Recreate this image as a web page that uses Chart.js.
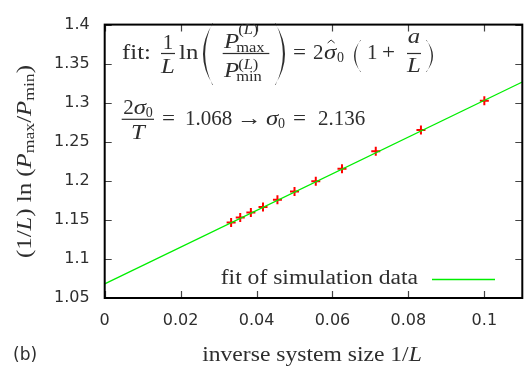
<!DOCTYPE html>
<html>
<head>
<meta charset="utf-8">
<script src="https://cdn.jsdelivr.net/npm/chart.js@4/dist/chart.umd.min.js"></script>
<style>
  html, body { margin: 0; padding: 0; background: #fff; }
  canvas { display: block; }
</style>
</head>
<body>
<canvas id="sizeChart" width="532" height="371"></canvas>
<script>
// simulation points: inverse system size 1/L and (1/L) ln(Pmax/Pmin)
const invL = [0.0333, 0.0357, 0.0385, 0.0417, 0.0455, 0.05, 0.0556, 0.0625, 0.0714, 0.0833, 0.1];
const ratio = [1.1468, 1.1529, 1.1594, 1.1664, 1.1757, 1.1864, 1.1995, 1.2154, 1.2379, 1.2652, 1.3025];

// fitted straight line, evaluated at both ends of the x range
const fitX = [0, 0.11];
const fitY = [1.068, 1.3265];

const xTicks = [0, 0.02, 0.04, 0.06, 0.08, 0.1];
const yTicks = [1.05, 1.1, 1.15, 1.2, 1.25, 1.3, 1.35, 1.4];

const legendLabel = "fit of simulation data";
const xTitle = "inverse system size 1/";
const panelTag = "(b)";

const INK = "#2e2e2e";
const GREEN = "#00ee00";
const RED = "#ff0000";

const R = s => `${s}px "Liberation Serif"`;
const I = s => `italic ${s}px "Liberation Serif"`;
const WIDE = 1.18;   // letters are set a bit wider than the stock serif

// draws a string with optional horizontal stretch, returns its advance
function put(ctx, str, x, y, font, align, sx) {
  sx = sx || WIDE;
  ctx.font = font;
  ctx.textAlign = "left";
  const w = ctx.measureText(str).width * sx;
  let x0 = x;
  if (align === "center") x0 = x - w / 2;
  if (align === "right") x0 = x - w;
  ctx.save();
  ctx.translate(x0, y);
  ctx.scale(sx, 1);
  ctx.fillText(str, 0, 0);
  ctx.restore();
  return w;
}

function width(ctx, str, font, sx) {
  ctx.font = font;
  return ctx.measureText(str).width * (sx || WIDE);
}

function bar(ctx, x0, x1, y) {
  ctx.fillRect(x0, y - 0.6, x1 - x0, 1.2);
}

// crescent-shaped delimiter; x0 = outer bulge, x1 = tips
function paren(ctx, x0, x1, top, bot, t) {
  const mid = (top + bot) / 2;
  const s = x1 > x0 ? 1 : -1;
  ctx.beginPath();
  ctx.moveTo(x1, top);
  ctx.quadraticCurveTo(2 * x0 - x1, mid, x1, bot);
  ctx.lineTo(x1 - s * 0.6, bot);
  ctx.quadraticCurveTo(2 * (x0 + s * t) - x1, mid, x1 - s * 0.6, top);
  ctx.closePath();
  ctx.fill();
}

function hat(ctx, cx, y) {
  ctx.beginPath();
  ctx.moveTo(cx - 3.5, y + 3);
  ctx.lineTo(cx, y);
  ctx.lineTo(cx + 3.5, y + 3);
  ctx.lineWidth = 1;
  ctx.strokeStyle = INK;
  ctx.stroke();
}

function drawFormulas(ctx) {
  ctx.fillStyle = INK;
  ctx.textBaseline = "alphabetic";

  // line 1: fit: (1/L) ln(Pmax/Pmin) = 2 sigma-hat (1 + a/L)
  put(ctx, "fit:", 122, 58.5, R(21));
  put(ctx, "1", 168, 48.5, R(21), "center", 1);
  bar(ctx, 161, 175, 53.5);
  put(ctx, "L", 168, 73, I(21), "center");
  put(ctx, "ln", 179, 58.5, R(21));

  paren(ctx, 203, 213, 23, 85, 2.4);
  let x = 224 + put(ctx, "P", 224, 48, I(21)) - 2;
  let sx = x + 1;
  sx += put(ctx, "(", sx, 34, R(14));
  sx += put(ctx, "L", sx, 34, I(14));
  put(ctx, ")", sx, 34, R(14));
  put(ctx, "max", x - 1, 52, R(14));
  bar(ctx, 222.7, 269.3, 53.5);
  x = 224 + put(ctx, "P", 224, 77, I(21)) - 2;
  sx = x + 1;
  sx += put(ctx, "(", sx, 69, R(14));
  sx += put(ctx, "L", sx, 69, I(14));
  put(ctx, ")", sx, 69, R(14));
  put(ctx, "min", x - 1, 81, R(14));
  paren(ctx, 285, 275, 23, 85, 2.4);

  put(ctx, "=", 293, 58.5, R(21), "left", 1.1);
  put(ctx, "2", 313, 58.5, R(21), "left", 1);
  const sw = put(ctx, "σ", 324, 58.5, I(21));
  hat(ctx, 324 + sw / 2 + 1, 40);
  put(ctx, "0", 337, 62, R(14), "left", 1);

  paren(ctx, 354, 361, 40, 72, 1.8);
  put(ctx, "1", 367, 58.5, R(21), "left", 1);
  put(ctx, "+", 382, 58.5, R(21), "left", 1.1);
  put(ctx, "a", 414, 43, I(21), "center");
  bar(ctx, 407, 421, 53.5);
  put(ctx, "L", 414, 72, I(21), "center");
  paren(ctx, 433, 426, 40, 72, 1.8);

  // line 2: 2 sigma0 / T = 1.068 -> sigma0 = 2.136
  const numW = width(ctx, "2", R(21), 1) + width(ctx, "σ", I(21)) + width(ctx, "0", R(14), 1);
  x = 138 - numW / 2;
  x += put(ctx, "2", x, 113.5, R(21), "left", 1);
  x += put(ctx, "σ", x, 113.5, I(21));
  put(ctx, "0", x, 117, R(14), "left", 1);
  bar(ctx, 121.7, 154, 119.3);
  put(ctx, "T", 138, 139, I(21), "center");

  put(ctx, "=", 162, 124.5, R(21), "left", 1.1);
  put(ctx, "1.068", 185, 124.5, R(21), "left", 1);
  put(ctx, "→", 237, 124.5, R(21));
  put(ctx, "σ", 266, 124.5, I(21));
  put(ctx, "0", 278, 128, R(14), "left", 1);
  put(ctx, "=", 293, 124.5, R(21), "left", 1.1);
  put(ctx, "2.136", 318, 124.5, R(21), "left", 1);
}

function drawYTitle(ctx) {
  const parts = [
    ["(1/", R(21), 0], ["L", I(21), 0], [")", R(21), 0], [" ln", R(21), 0], [" (", R(21), 0],
    ["P", I(21), 0], ["max", R(15), 3], ["/", R(21), 0], ["P", I(21), 0], ["min", R(15), 3], [")", R(21), 0]
  ];
  let total = 0;
  parts.forEach(p => { total += width(ctx, p[0], p[1]); });
  ctx.save();
  ctx.translate(31, 161.5);
  ctx.rotate(-Math.PI / 2);
  let x = -total / 2;
  parts.forEach(p => { x += put(ctx, p[0], x, p[2], p[1]); });
  ctx.restore();
}

const frame = {
  id: "frame",
  afterDraw(chart) {
    const ctx = chart.ctx;
    const a = chart.chartArea;
    const xs = chart.scales.x, ys = chart.scales.y;
    ctx.save();

    // inward ticks on all four sides
    ctx.strokeStyle = "#444";
    ctx.lineWidth = 1.2;
    ctx.beginPath();
    xTicks.forEach(v => {
      const px = Math.round(xs.getPixelForValue(v)) + 0.5;
      ctx.moveTo(px, a.bottom); ctx.lineTo(px, a.bottom - 7);
      ctx.moveTo(px, a.top); ctx.lineTo(px, a.top + 7);
    });
    yTicks.forEach(v => {
      const py = Math.round(ys.getPixelForValue(v)) + 0.5;
      ctx.moveTo(a.left, py); ctx.lineTo(a.left + 7, py);
      ctx.moveTo(a.right, py); ctx.lineTo(a.right - 7, py);
    });
    ctx.stroke();

    ctx.strokeStyle = "#000";
    ctx.lineWidth = 2;
    ctx.strokeRect(a.left, a.top, a.right - a.left, a.bottom - a.top);

    drawFormulas(ctx);

    // legend entry inside the plot
    ctx.fillStyle = INK;
    put(ctx, legendLabel, 418, 284, R(20), "right");
    ctx.strokeStyle = GREEN;
    ctx.lineWidth = 1.3;
    ctx.beginPath();
    ctx.moveTo(432, 279.5); ctx.lineTo(495, 279.5);
    ctx.stroke();

    drawYTitle(ctx);

    // x title with italic L
    ctx.fillStyle = INK;
    const w1 = width(ctx, xTitle, R(20)), w2 = width(ctx, "L", I(20));
    const x0 = 312 - (w1 + w2) / 2;
    put(ctx, xTitle, x0, 361, R(20));
    put(ctx, "L", x0 + w1, 361, I(20));

    put(ctx, panelTag, 13, 360, '17px "DejaVu Sans"', "left", 1);
    ctx.restore();
  }
};

new Chart(document.getElementById("sizeChart"), {
  type: "scatter",
  data: {
    datasets: [
      {
        label: legendLabel,
        data: fitX.map((v, i) => ({ x: v, y: fitY[i] })),
        showLine: true,
        borderColor: GREEN,
        borderWidth: 1.3,
        pointRadius: 0,
        fill: false
      },
      {
        label: "simulation",
        data: invL.map((v, i) => ({ x: v, y: ratio[i] })),
        pointStyle: "cross",
        pointRadius: 4.5,
        borderColor: RED,
        backgroundColor: RED,
        pointBorderWidth: 2
      }
    ]
  },
  options: {
    responsive: false,
    animation: false,
    layout: { padding: { top: 12.7, right: 9.7, left: 0, bottom: 0 } },
    plugins: { legend: { display: false }, tooltip: { enabled: false } },
    scales: {
      x: {
        type: "linear",
        min: 0,
        max: 0.11,
        afterFit: s => { s.height = 73; },
        afterBuildTicks: s => { s.ticks = xTicks.map(v => ({ value: v })); },
        grid: { display: false, drawTicks: false },
        border: { display: false },
        ticks: {
          padding: 13,
          color: INK,
          font: { family: "DejaVu Sans", size: 16 },
          callback: v => String(Math.round(v * 100) / 100)
        }
      },
      y: {
        min: 1.05,
        max: 1.4,
        afterFit: s => { s.width = 104.7; },
        afterBuildTicks: s => { s.ticks = yTicks.map(v => ({ value: v })); },
        grid: { display: false, drawTicks: false },
        border: { display: false },
        ticks: {
          padding: 15,
          color: INK,
          font: { family: "DejaVu Sans", size: 16 },
          callback: v => String(Math.round(v * 100) / 100)
        }
      }
    }
  },
  plugins: [frame]
});
</script>
</body>
</html>
